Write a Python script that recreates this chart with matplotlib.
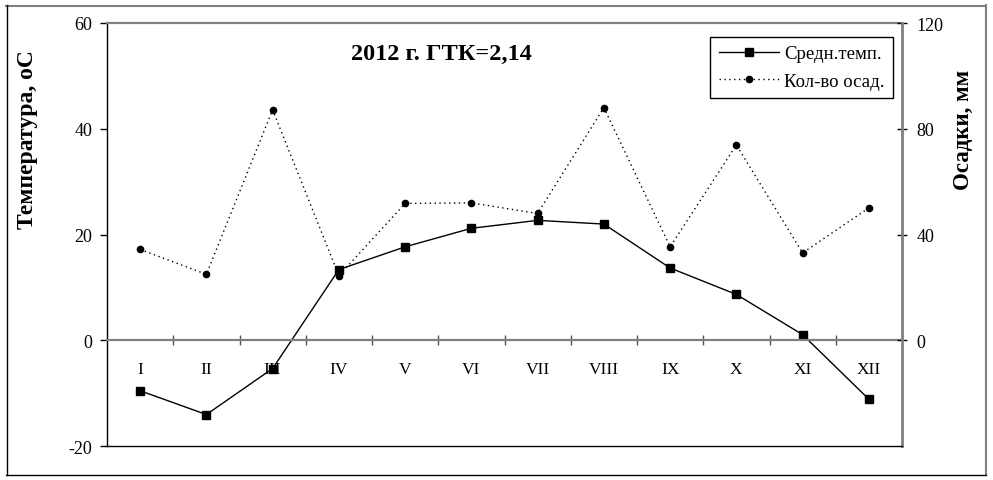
import matplotlib
matplotlib.use("Agg")
import matplotlib.pyplot as plt
from matplotlib.lines import Line2D

months = ['I', 'II', 'III', 'IV', 'V', 'VI', 'VII', 'VIII', 'IX', 'X', 'XI', 'XII']
temp = [-9.5, -14.0, -5.3, 13.4, 17.7, 21.2, 22.7, 22.0, 13.7, 8.7, 1.1, -11.1]
precip = [34.4, 25.0, 87.2, 24.5, 51.8, 52.0, 48.0, 88.0, 35.4, 73.9, 33.1, 50.1]
temp_ticks = [-20, 0, 20, 40, 60]
precip_ticks = [0, 40, 80, 120]
title = '2012 г. ГТК=2,14'
temp_label = 'Температура, оС'
precip_label = 'Осадки, мм'
series_names = ['Средн.темп.', 'Кол-во осад.']

plt.rcParams['font.family'] = ['Liberation Serif', 'DejaVu Serif']
plt.rcParams['axes.unicode_minus'] = False

W, H = 993, 481
fig = plt.figure(figsize=(W / 100, H / 100), dpi=100)
fig.patch.set_facecolor('white')

x0, x1, ytop, ybot = 107, 902, 24, 447.3
ax = fig.add_axes([x0 / W, 1 - ybot / H, (x1 - x0) / W, (ybot - ytop) / H])
ax2 = ax.twinx()

x = list(range(len(months)))
l1, = ax.plot(x, temp, color='black', lw=1, marker='s', ms=6, label=series_names[0], clip_on=False)
l2, = ax2.plot(x, precip, color='black', lw=1, ls=(0, (1, 2.5)), marker='o', ms=4.5,
               label=series_names[1], clip_on=False)

ax.set_xlim(-0.5, len(months) - 0.5)
ax.set_ylim(temp_ticks[0], temp_ticks[-1])
ax2.set_ylim(-40, precip_ticks[-1])

ax.set_yticks(temp_ticks)
ax.tick_params(axis='y', direction='out', length=5, width=1, labelsize=13, pad=5.5, colors='black')
ax2.set_yticks(precip_ticks)
ax2.tick_params(axis='y', direction='inout', length=7.5, width=1, labelsize=13, pad=6.5,
                colors='black')

ax.set_xticks([i + 0.5 for i in range(len(months) - 1)])
ax.set_xticklabels([])
ax.tick_params(axis='x', direction='inout', length=7.5, width=1, color='#555555')

gray = '#808080'
ax.spines['bottom'].set_position(('data', 0))
ax.spines['bottom'].set_color(gray)
ax.spines['bottom'].set_linewidth(1.6)
ax.spines['top'].set_color(gray)
ax.spines['top'].set_linewidth(1.6)
ax.spines['left'].set_color('black')
ax.spines['left'].set_linewidth(1)
ax.spines['right'].set_visible(False)
ax2.spines['right'].set_color(gray)
ax2.spines['right'].set_linewidth(2)
ax2.spines['left'].set_visible(False)
ax2.spines['top'].set_visible(False)
ax2.spines['bottom'].set_color('black')
ax2.spines['bottom'].set_linewidth(1)

for i, m in enumerate(months):
    ax.text(i, -5.3, m, ha='center', va='center', fontsize=12.5)

fig.text(441 / W, 1 - 54.5 / H, title, ha='center', va='center', fontsize=17.5, fontweight='bold')
fig.text(27.5 / W, 1 - 140 / H, temp_label, ha='center', va='center', rotation=90,
         fontsize=17, fontweight='bold')
fig.text(963 / W, 1 - 130 / H, precip_label, ha='center', va='center', rotation=90,
         fontsize=16.5, fontweight='bold')

leg = ax2.legend([l1, l2], series_names, loc='upper right',
                 bbox_to_anchor=(0.989, 0.968), borderaxespad=0, fancybox=False,
                 edgecolor='black', fontsize=13.5, handlelength=3.2, handletextpad=0.3,
                 borderpad=0.45, labelspacing=0.55, framealpha=1)
leg.get_frame().set_linewidth(1)

# outer frame
def px_line(xa, ya, xb, yb, color, lw):
    fig.add_artist(Line2D([xa / W, xb / W], [1 - ya / H, 1 - yb / H],
                          transform=fig.transFigure, color=color, lw=lw))

px_line(6, 6.5, 986, 6.5, gray, 1.5)
px_line(6.5, 6, 6.5, 476, 'black', 1)
px_line(985.5, 6, 985.5, 476, gray, 1.5)
px_line(6, 476, 986, 476, 'black', 1)

fig.savefig('out.png', dpi=100)
